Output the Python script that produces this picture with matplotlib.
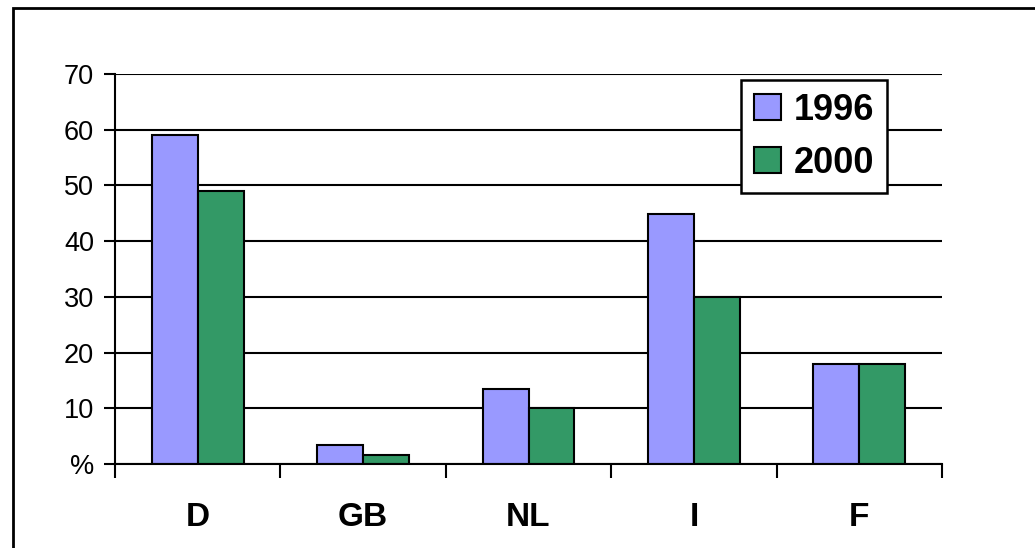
import matplotlib
matplotlib.use('Agg')
import matplotlib.pyplot as plt
import numpy as np
from matplotlib.patches import Rectangle

plt.rcParams['font.family'] = ['Liberation Sans', 'DejaVu Sans']

countries = ['D', 'GB', 'NL', 'I', 'F']
share_1996 = [59, 3.4, 13.5, 44.8, 18]
share_2000 = [49, 1.6, 10, 30, 18]
yticks = [0, 10, 20, 30, 40, 50, 60, 70]
ytick_labels = ['%', '10', '20', '30', '40', '50', '60', '70']

dpi = 100
fig = plt.figure(figsize=(10.35, 5.48), dpi=dpi)
ax = fig.add_axes([115 / 1035, 1 - 464 / 548, 827 / 1035, 390 / 548])

x = np.arange(len(countries))
w = 0.278
ax.bar(x - w / 2, share_1996, w, color='#9999FF', edgecolor='black', linewidth=1.5,
       label='1996', zorder=3)
ax.bar(x + w / 2, share_2000, w, color='#339966', edgecolor='black', linewidth=1.5,
       label='2000', zorder=3)

ax.set_xlim(-0.5, len(countries) - 0.5)
ax.set_ylim(0, 70)
ax.set_yticks(yticks)
ax.set_yticklabels(ytick_labels, fontsize=19.5)
ax.yaxis.grid(True, color='black', linewidth=1.5, zorder=1)
ax.tick_params(axis='y', length=8, width=1.5, pad=7)

# category labels centred, ticks only at the boundaries
ax.set_xticks(x)
ax.set_xticklabels(countries, fontsize=24, fontweight='bold')
ax.tick_params(axis='x', which='major', length=0, pad=27)
ax.set_xticks(np.arange(-0.5, len(countries)), minor=True)
ax.tick_params(axis='x', which='minor', length=10, width=1.5)

for side in ['top', 'right']:
    ax.spines[side].set_visible(False)
for side in ['left', 'bottom']:
    ax.spines[side].set_linewidth(1.5)
    ax.spines[side].set_zorder(4)

leg = ax.legend(loc='upper left', bbox_to_anchor=(741 / 1035, 1 - 80 / 548),
                bbox_transform=fig.transFigure, prop={'size': 26, 'weight': 'bold'},
                frameon=True, fancybox=False, framealpha=1,
                handlelength=0.75, handleheight=0.75,
                handletextpad=0.35, labelspacing=0.5, borderpad=0.35,
                borderaxespad=0)
leg.get_frame().set_edgecolor('black')
leg.get_frame().set_linewidth(1.8)
leg.set_zorder(5)

# outer frame around the chart area
fig.patches.append(Rectangle((13 / 1035, -0.1), 1.2, 1.1 - 8 / 548,
                             transform=fig.transFigure, fill=False,
                             edgecolor='black', linewidth=2))

fig.savefig('out.png', dpi=dpi)
